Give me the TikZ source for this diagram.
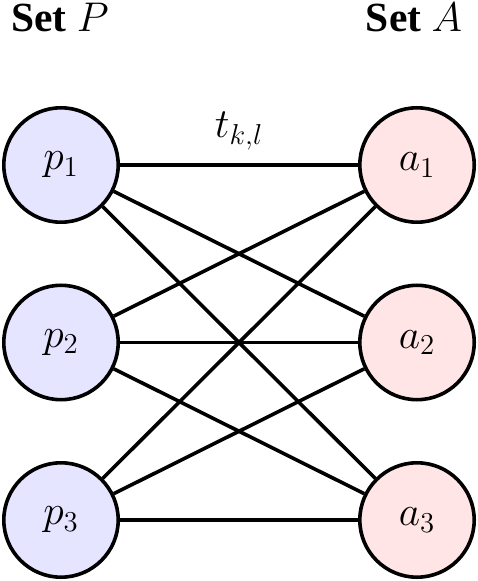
\documentclass[tikz,border=0pt]{standalone}
\usepackage{fontspec}
\setmainfont{Liberation Serif}
\begin{document}
\begin{tikzpicture}[x=0.5pt,y=-0.5pt,
  pnode/.style={circle,draw=black,line width=1.8pt,fill=blue!10,minimum size=57.2pt,inner sep=0pt,font=\huge},
  anode/.style={circle,draw=black,line width=1.8pt,fill=red!10,minimum size=57.2pt,inner sep=0pt,font=\huge},
  edge/.style={line width=1.8pt},
  title/.style={font=\huge}]
\useasboundingbox (0,0) rectangle (477,581);
\node[title] (tp) at (60,18) {\textbf{Set} $P$};
\node[title] (ta) at (414,18) {\textbf{Set} $A$};
\node[pnode] (p1) at (61,165) {$p_1$};
\node[pnode] (p2) at (61,342.5) {$p_2$};
\node[pnode] (p3) at (61,520) {$p_3$};
\node[anode] (a1) at (417,165) {$a_1$};
\node[anode] (a2) at (417,342.5) {$a_2$};
\node[anode] (a3) at (417,520) {$a_3$};
\foreach \i in {1,2,3}{
  \foreach \j in {1,2,3}{
    \draw[edge] (p\i) -- (a\j);
  }
}
\node[font=\huge] (t) at (239,131) {$t_{k,l}$};
\end{tikzpicture}
\end{document}
